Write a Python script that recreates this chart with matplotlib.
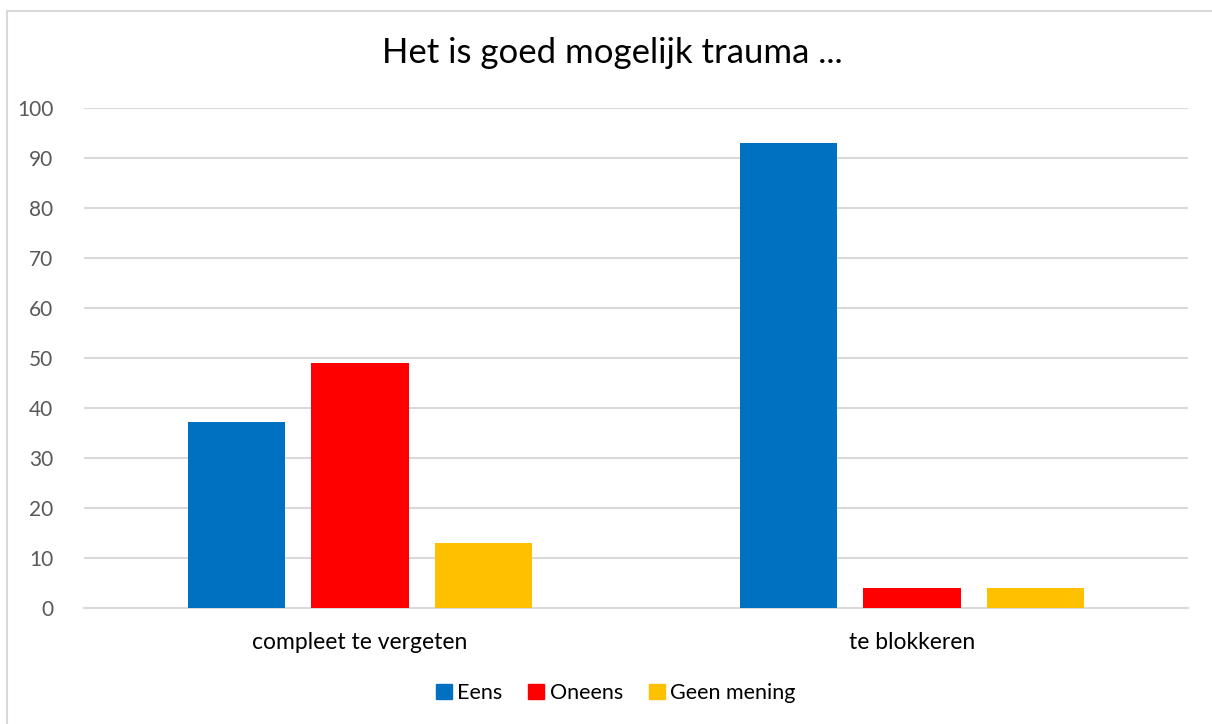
import numpy as np
import matplotlib
matplotlib.use("Agg")
import matplotlib.pyplot as plt
from matplotlib.lines import Line2D

plt.rcParams["font.family"] = ["Lato", "DejaVu Sans"]

categories = ["compleet te vergeten", "te blokkeren"]
series = ["Eens", "Oneens", "Geen mening"]
eens = [37.2, 93.0]
oneens = [49.0, 4.0]
geen_mening = [13.0, 4.0]
colors = ["#0070c0", "#ff0000", "#ffc000"]
y_ticks = list(range(0, 101, 10))

fig = plt.figure(figsize=(12.12, 7.24), dpi=100)
ax = fig.add_axes([84 / 1212, 115.7 / 724, (1188 - 84) / 1212, 500 / 724])

x = np.arange(len(categories))
width = 0.176
step = 0.223
for i, (vals, name) in enumerate(zip([eens, oneens, geen_mening], series)):
    ax.bar(x + (i - 1) * step, vals, width, color=colors[i], label=name, zorder=3)

ax.set_xlim(-0.5, 1.5)
ax.set_ylim(0, 100)
ax.set_yticks(y_ticks)
ax.yaxis.grid(True, color="#d9d9d9", linewidth=1.5, zorder=0)
ax.set_xticks(x)
ax.set_xticklabels(categories, fontsize=16.5, color="#000000")
ax.tick_params(axis="y", labelsize=15, labelcolor="#595959", length=0, pad=22)
ax.tick_params(axis="x", length=0, pad=17)
for s in ["top", "right", "left"]:
    ax.spines[s].set_visible(False)
ax.spines["bottom"].set_color("#d9d9d9")
ax.spines["bottom"].set_linewidth(1.5)

fig.text(0.505, 1 - 53 / 724, "Het is goed mogelijk trauma ...", fontsize=25,
         ha="center", va="center", color="#000000")

handles = [plt.Rectangle((0, 0), 1, 1, color=c) for c in colors]
fig.legend(handles, series, loc="center", bbox_to_anchor=(0.508, 1 - 693 / 724),
           ncol=3, frameon=False, fontsize=15.5, handlelength=0.75, handleheight=0.75,
           handletextpad=0.25, columnspacing=1.2)

# chart border (top and left edges visible)
fig.add_artist(Line2D([6.5 / 1212, 6.5 / 1212], [0, 1 - 10.5 / 724],
                      transform=fig.transFigure, color="#d9d9d9", linewidth=1.5))
fig.add_artist(Line2D([6.5 / 1212, 1], [1 - 10.5 / 724, 1 - 10.5 / 724],
                      transform=fig.transFigure, color="#d9d9d9", linewidth=1.5))

fig.savefig("out.png", dpi=100)
